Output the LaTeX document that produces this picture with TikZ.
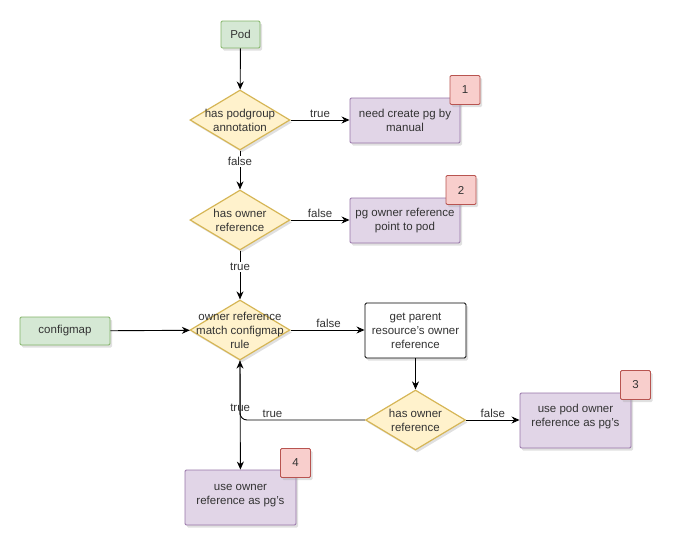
\documentclass[tikz,border=0pt]{standalone}
\usepackage{fontspec}
\setmainfont{Liberation Sans}
\usetikzlibrary{shapes.geometric,arrows.meta,shadows}
\definecolor{gfill}{HTML}{D5E8D4}\definecolor{gdraw}{HTML}{82B366}
\definecolor{yfill}{HTML}{FFF2CC}\definecolor{ydraw}{HTML}{D6B656}
\definecolor{pfill}{HTML}{E1D5E7}\definecolor{pdraw}{HTML}{9673A6}
\definecolor{rfill}{HTML}{F8CECC}\definecolor{rdraw}{HTML}{B85450}
\definecolor{txt}{HTML}{333333}
\newcommand{\apos}{{\char"27}}
\begin{document}
\begin{tikzpicture}[x=1pt,y=-1pt,font=\fontsize{11.5}{14}\selectfont,text=txt,
 shd/.style={drop shadow={shadow xshift=2pt,shadow yshift=-2.5pt,opacity=0.35,fill=gray!70}},
 gbox/.style={draw=gdraw,fill=gfill,line width=0.9pt,shd,inner sep=0pt,rounded corners=1.2pt},
 pbox/.style={draw=pdraw,fill=pfill,line width=0.9pt,shd,inner sep=0pt,align=center,minimum width=111pt,rounded corners=1.2pt},
 rbadge/.style={draw=rdraw,fill=rfill,line width=0.9pt,shd,inner sep=0pt,minimum width=30pt,minimum height=29pt,rounded corners=1.2pt},
 wbox/.style={draw=black,fill=white,line width=0.9pt,shd,inner sep=0pt,align=center,rounded corners=1.5pt},
 dia/.style={diamond,draw=ydraw,fill=yfill,line width=1.2pt,shd,inner sep=0pt,minimum width=100pt,minimum height=60pt},
 dtext/.style={label={[align=center,text=txt]center:#1}},
 arr/.style={-{Stealth[length=8pt,width=7pt]},line width=0.9pt,draw=black},
 lbl/.style={inner sep=1pt,text=txt},
]
\useasboundingbox (0,0) rectangle (673,549);
% nodes
\node[gbox,minimum width=39pt,minimum height=27pt] (pod) at (240.5,34.5) {Pod};
\node[dia,dtext={has podgroup\\annotation}] (d1) at (240,120) {};
\node[pbox,minimum width=110pt,minimum height=45pt] (b1) at (405,120.5) {need create pg by\\manual};
\node[rbadge] (r1) at (465,90) {1};
\node[dia,dtext={has owner\\reference}] (d2) at (240,220) {};
\node[pbox,minimum width=110pt,minimum height=45pt] (b2) at (405,220.5) {pg owner reference\\point to pod};
\node[rbadge] (r2) at (461,190) {2};
\node[dia,dtext={owner reference\\match configmap\\rule}] (d3) at (240,330) {};
\node[gbox,minimum width=90pt,minimum height=28pt] (cfg) at (65,331) {configmap};
\node[wbox,minimum width=101pt,minimum height=55pt] (gp) at (415.5,330.5) {get parent\\resource\apos s owner\\reference};
\node[dia,dtext={has owner\\reference}] (d4) at (415.5,420) {};
\node[pbox,minimum height=55pt] (b3) at (575.5,420.5) {use pod owner\\reference as pg\apos s\\[-3pt]};
\node[rbadge] (r3) at (635.5,385) {3};
\node[pbox,minimum height=55pt] (b4) at (240.5,497.5) {use owner\\reference as pg\apos s\\[-8pt]};
\node[rbadge] (r4) at (295.5,463) {4};
% edges
\draw[arr] (pod) -- (d1);
\draw[arr] (d1) -- node[lbl,above=1pt]{true} (b1.west |- d1.east);
\draw[arr] (d1) -- node[lbl,fill=white,pos=0.28]{false} (d2);
\draw[arr] (d2) -- node[lbl,above=1pt]{false} (b2.west |- d2.east);
\draw[arr] (d2) -- node[lbl,fill=white,pos=0.34]{true} (d3);
\draw[arr] (cfg) -- (d3);
\draw[arr] (d3) -- node[lbl,above=1pt,xshift=1pt]{false} (gp.west |- d3.east);
\draw[arr] (gp) -- (d4);
\draw[arr] (d4) -- node[lbl,above=1pt]{false} (b3.west |- d4.east);
\draw[arr,rounded corners=7pt] (d4.west) -- node[lbl,above=1pt,pos=0.74]{true} (d3.south |- d4.west) -- (d3.south);
\draw[arr] (d3.south) -- node[lbl,pos=0.43]{true} (b4);
\end{tikzpicture}
\end{document}
